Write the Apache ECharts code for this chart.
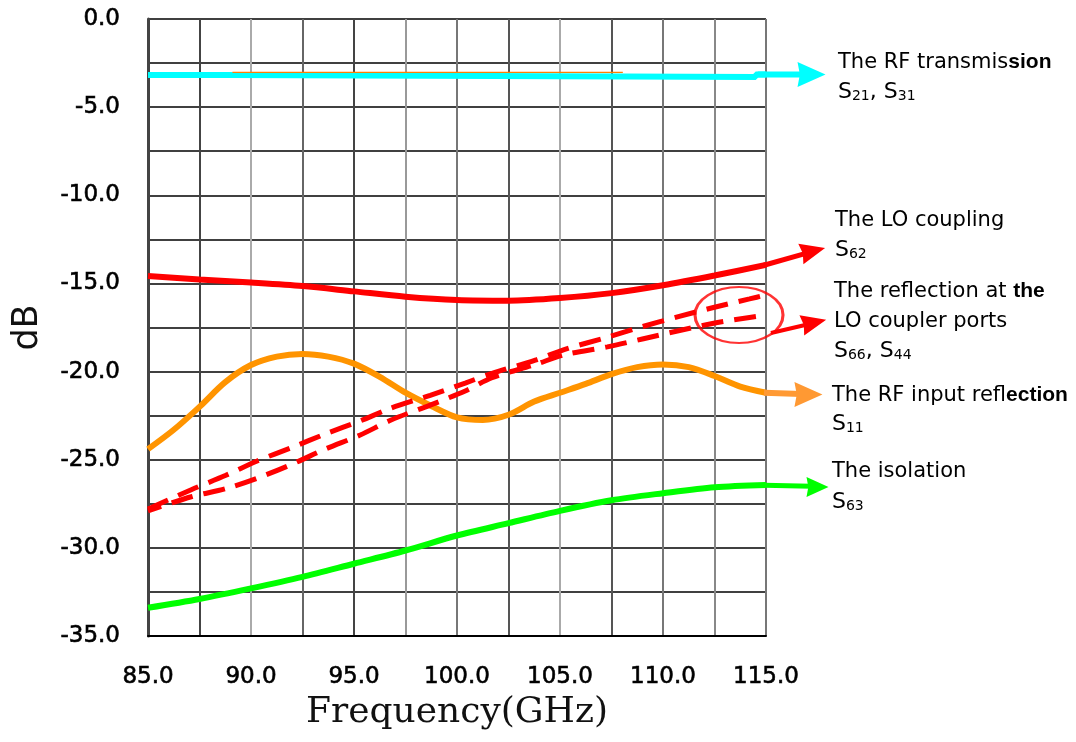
<!DOCTYPE html>
<html>
<head>
<meta charset="utf-8">
<script src="https://cdn.jsdelivr.net/npm/echarts@6/dist/echarts.min.js"></script>
<style>
html,body{margin:0;padding:0;background:#fff;}
#chart{width:1076px;height:742px;}
</style>
</head>
<body>
<div id="chart"></div>
<script>
// ---- data ----
const xTicks = [85, 90, 95, 100, 105, 110, 115];
const yTicks = [0, -5, -10, -15, -20, -25, -30, -35];

// RF transmission S21, S31
const s21Freq = [85, 88.9, 88.9, 114.5, 114.5, 115];
const s21 = [-3.18, -3.18, -3.29, -3.29, -3.15, -3.15];
// faint orange trace hidden under the cyan line
const traceFreq = [89.1, 108.05];
const trace = [-3.03, -3.03];

// LO coupling S62 and isolation S63
const freqCoarse = [85, 87.5, 90, 92.5, 95, 97.5, 100, 102.5, 105, 107.5, 110, 112.5, 115];
const s62 = [-14.58, -14.78, -14.95, -15.15, -15.45, -15.75, -15.94, -15.98, -15.83, -15.55, -15.1, -14.55, -13.95];
const s63 = [-33.4, -32.9, -32.3, -31.65, -30.9, -30.15, -29.3, -28.6, -27.9, -27.3, -26.9, -26.56, -26.43];

// RF input reflection S11
const freqFine = [85, 86.25, 87.5, 88.75, 90, 91.25, 92.5, 93.75, 95, 96.25, 97.5, 98.75, 100,
  101.25, 102.5, 103.75, 105, 106.25, 107.5, 108.75, 110, 111.25, 112.5, 113.75, 115];
const s11 = [-24.4, -23.3, -22.0, -20.6, -19.63, -19.15, -19.0, -19.15, -19.55, -20.3, -21.2, -21.95, -22.6,
  -22.75, -22.45, -21.7, -21.2, -20.7, -20.15, -19.75, -19.6, -19.75, -20.25, -20.85, -21.2];

// reflection at the LO coupler ports S66, S44 (dashed)
const reflFreq = [85, 87.1, 88.75, 90.3, 92, 93.6, 95.3, 96.8, 98.7, 100.4, 101.7, 103.8, 105.2, 107.3, 109, 110.7, 112.4, 114.2, 115];
const s66 = [-27.8, -26.7, -25.9, -25.07, -24.3, -23.54, -22.8, -22.07, -21.35, -20.65, -20.1, -19.35, -18.75, -18.05, -17.45, -16.9, -16.38, -15.88, -15.65];
const s44 = [-27.9, -27.1, -26.65, -26.05, -25.25, -24.4, -23.6, -22.75, -21.9, -21.1, -20.35, -19.6, -19.05, -18.6, -18.15, -17.7, -17.27, -16.93, -16.8];

// annotation ellipse around the dashed pair (data coords)
const ringCenter = [113.69, -16.79];

// arrow shafts (freq, dB) and arrow heads (freq, dB)
const arrowTransFreq = [114.6, 116.75]; const arrowTrans = [-3.15, -3.15];
const arrowLOFreq = [114.9, 116.85];    const arrowLO = [-13.97, -13.32];
const arrowReflFreq = [115.24, 116.9];  const arrowRefl = [-17.81, -17.36];
const arrowS11Freq = [114.9, 116.7];    const arrowS11 = [-21.2, -21.27];
const arrowIsoFreq = [114.9, 117.2];    const arrowIso = [-26.45, -26.5];
const headTrans = [117.21, -3.15];
const headLO = [117.28, -13.16];
const headRefl = [117.33, -17.22];
const headS11 = [117.06, -21.3];
const headIso = [117.5, -26.55];

const zip = (xs, ys) => xs.map((x, i) => [x, ys[i]]);

const chart = echarts.init(document.getElementById('chart'), null, {renderer: 'canvas'});
const ARROW = 'path://M0,0L24,10L0,20L2,10Z';

const fmt = v => (Math.abs(v % 5) < 1e-9 ? v.toFixed(1) : '');

function head(pt, color, size, rot) {
  return {
    type: 'scatter', xAxisIndex: 1, yAxisIndex: 1, clip: false, silent: true, z: 5,
    symbol: ARROW, symbolSize: size, symbolRotate: rot,
    itemStyle: {color: color, opacity: 1},
    data: [pt]
  };
}
function shaft(xs, ys, color, width) {
  return {
    type: 'line', xAxisIndex: 1, yAxisIndex: 1, clip: false, silent: true,
    showSymbol: false, symbol: 'none', z: 4,
    lineStyle: {color: color, width: width, cap: 'butt'},
    data: zip(xs, ys)
  };
}

const labelFont = 'DejaVu Sans';
const GRAY = '#707070';
const richStyles = {
  g: {fontFamily: labelFont, fontSize: 21, color: GRAY},
  b: {fontFamily: 'Liberation Sans', fontSize: 21, fontWeight: 'bold', color: '#000'},
  s: {fontFamily: labelFont, fontSize: 22, color: GRAY, lineHeight: 22, verticalAlign: 'bottom'},
  d: {fontFamily: labelFont, fontSize: 14, color: GRAY, lineHeight: 18, verticalAlign: 'bottom'}
};
function note(left, cy, text) {
  return {type: 'text', left: left, top: cy - 12, silent: true,
    style: {text: text, rich: richStyles, font: '21px DejaVu Sans'}};
}

const tickLabel = {formatter: fmt, fontFamily: 'DejaVu Sans', fontSize: 23, color: '#000',
  textBorderColor: '#000', textBorderWidth: 0.6};

const option = {
  animation: false,
  backgroundColor: '#ffffff',
  grid: [
    {left: 148, top: 19, width: 618, height: 617, show: false},
    {left: 148, top: 19, width: 721, height: 617, show: false}
  ],
  xAxis: [{
    type: 'value', min: 85, max: 115, interval: 2.5, gridIndex: 0,
    name: 'Frequency(GHz)', nameLocation: 'middle', nameGap: 58,
    nameTextStyle: {fontFamily: 'DejaVu Serif', fontSize: 36, color: '#111'},
    axisLine: {show: true, onZero: false, lineStyle: {color: '#000', width: 2}},
    axisTick: {show: false},
    axisLabel: Object.assign({margin: 30}, tickLabel),
    splitLine: {show: true, lineStyle: {width: 2,
      color: ['#444', '#444', '#aaaaaa', '#666', '#444', '#999', '#777', '#555', '#aaaaaa', '#555', '#777', '#888', '#777']}}
  }, {
    type: 'value', min: 85, max: 120, gridIndex: 1, show: false
  }],
  yAxis: [{
    type: 'value', min: -35, max: 0, interval: 2.5, gridIndex: 0,
    name: 'dB', nameLocation: 'middle', nameGap: 103, nameRotate: 90,
    nameTextStyle: {fontFamily: 'DejaVu Sans', fontSize: 35, color: '#111'},
    axisLine: {show: true, onZero: false, lineStyle: {color: '#444', width: 3}},
    axisTick: {show: false},
    axisLabel: Object.assign({margin: 28}, tickLabel),
    splitLine: {show: true, lineStyle: {color: '#000', width: 1.6}}
  }, {
    type: 'value', min: -35, max: 0, gridIndex: 1, show: false
  }],
  graphic: [
    note(838, 64, '{g|The RF transmis}{b|sion}'),
    note(838, 93, '{s|S}{d|21}{s|, S}{d|31}'),
    note(835, 222, '{g|The LO coupling}'),
    note(835, 251, '{s|S}{d|62}'),
    note(834, 293, '{g|The reflection at }{b|the}'),
    note(834, 323, '{g|LO coupler ports}'),
    note(834, 352, '{s|S}{d|66}{s|, S}{d|44}'),
    note(832, 397, '{g|The RF input refl}{b|ection}'),
    note(832, 425, '{s|S}{d|11}'),
    note(832, 473, '{g|The isolation}'),
    note(832, 503, '{s|S}{d|63}')
  ],
  series: [
    {type: 'line', name: 'S21, S31', showSymbol: false, symbol: 'none', z: 2,
      lineStyle: {color: '#00ffff', width: 6}, data: zip(s21Freq, s21)},
    {type: 'line', name: 'trace', showSymbol: false, symbol: 'none', z: 3,
      lineStyle: {color: '#ff8000', width: 1.3}, data: zip(traceFreq, trace)},
    {type: 'line', name: 'S63', showSymbol: false, symbol: 'none', smooth: 0.3, z: 2,
      lineStyle: {color: '#00ff00', width: 6}, data: zip(freqCoarse, s63)},
    {type: 'line', name: 'S11', showSymbol: false, symbol: 'none', smooth: 0.3, z: 2,
      lineStyle: {color: '#ff9400', width: 6}, data: zip(freqFine, s11)},
    {type: 'line', name: 'S62', showSymbol: false, symbol: 'none', smooth: 0.3, z: 2,
      lineStyle: {color: '#ff0000', width: 6}, data: zip(freqCoarse, s62)},
    {type: 'line', name: 'S66', showSymbol: false, symbol: 'none', smooth: 0.3, z: 3,
      lineStyle: {color: '#ff0000', width: 5, type: [22, 11]}, data: zip(reflFreq, s66)},
    {type: 'line', name: 'S44', showSymbol: false, symbol: 'none', smooth: 0.3, z: 3,
      lineStyle: {color: '#ff0000', width: 5, type: [22, 11], dashOffset: 8}, data: zip(reflFreq, s44)},
    {type: 'scatter', name: 'ring', xAxisIndex: 1, yAxisIndex: 1, clip: false, silent: true, z: 4,
      symbol: 'circle', symbolSize: [88, 56],
      itemStyle: {color: 'rgba(0,0,0,0)', borderColor: '#ff0000', borderWidth: 2.5},
      data: [ringCenter]},
    shaft(arrowTransFreq, arrowTrans, '#00ffff', 6),
    shaft(arrowLOFreq, arrowLO, '#ff0000', 5),
    shaft(arrowReflFreq, arrowRefl, '#ff0000', 4),
    shaft(arrowS11Freq, arrowS11, '#ff9933', 6),
    shaft(arrowIsoFreq, arrowIso, '#00ff00', 5),
    head(headTrans, '#00ffff', [28, 25], 0),
    head(headLO, '#ff0000', [25, 21], 14),
    head(headRefl, '#ff0000', [25, 21], 13),
    head(headS11, '#ff9933', [28, 25], 0),
    head(headIso, '#00ff00', [22, 20], 0)
  ]
};
chart.setOption(option);
</script>
</body>
</html>
